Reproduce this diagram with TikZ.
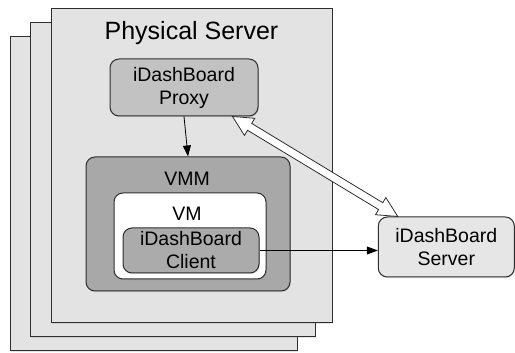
\documentclass[tikz,border=0pt]{standalone}
\usepackage{fontspec}
\setmainfont{Liberation Sans}
\usetikzlibrary{calc,arrows.meta,shadows}
\definecolor{pagegray}{HTML}{E3E3E3}
\definecolor{proxygray}{HTML}{C2C2C2}
\definecolor{vmmgray}{HTML}{A8A8A8}
\definecolor{clientgray}{HTML}{ABABAB}
\definecolor{servergray}{HTML}{E6E6E6}
\definecolor{edge}{HTML}{2E2E2E}
\begin{document}
\begin{tikzpicture}[x=1pt,y=1pt,
  sheet/.style={draw=edge, line width=1pt, fill=pagegray, minimum width=#1, minimum height=314pt, inner sep=0pt,
    drop shadow={opacity=0.2, shadow xshift=1pt, shadow yshift=-1.5pt}},
  rbox/.style={draw=edge, line width=1pt, rounded corners=9pt, inner sep=0pt, align=center,
    font=\fontsize{19.5}{23}\selectfont,
    drop shadow={opacity=0.25, shadow xshift=0.8pt, shadow yshift=-1.2pt}},
  lbl/.style={inner sep=0pt, font=\fontsize{19.5}{23}\selectfont},
  conn/.style={line width=0.8pt, draw=black, -{Triangle[length=11pt,width=8pt]}}
]
\useasboundingbox (0,0) rectangle (515,353);
% stacked servers
\node[sheet=287pt] (back) at (153.5,159) {};
\node[sheet=285pt] (mid) at (172.5,173) {};
\node[sheet=281pt] (front) at (191.5,187) {};
\node[inner sep=0pt, font=\fontsize{25}{29}\selectfont] (title) at (191.5,320) {Physical Server};
% proxy
\node[rbox, fill=proxygray, minimum width=148pt, minimum height=57pt] (proxy) at (184,265.5) {iDashBoard\\Proxy};
% VMM
\node[rbox, fill=vmmgray, minimum width=204pt, minimum height=134pt] (vmm) at (188,129) {};
\node[lbl] (vmmlbl) at (187,174) {VMM};
\node[rbox, fill=white, minimum width=152pt, minimum height=86pt] (vm) at (190,117) {};
\node[lbl] (vmlbl) at (187,139.5) {VM};
\node[rbox, fill=clientgray, minimum width=136pt, minimum height=45pt] (client) at (191,102.5) {iDashBoard\\Client};
% server
\node[rbox, fill=servergray, minimum width=136pt, minimum height=60pt] (server) at (446.3,106) {iDashBoard\\Server};
% connectors
\draw[conn] (proxy.south) -- (vmm.north);
\draw[conn] (client.east) -- (client.east -| server.west);
\coordinate (pa) at ([xshift=-26pt]proxy.south east);
\coordinate (sb) at ([xshift=20pt]server.north west);
\path[draw=edge, line width=0.8pt, fill=white, line join=miter]
  let \p1=($(sb)-(pa)$), \n1={atan2(\y1,\x1)} in
  (pa) -- ($(pa)+({\n1+26.57}:22.36pt)$) -- ($(pa)+({\n1+11.31}:20.40pt)$)
  -- ($(sb)+({\n1+180-11.31}:20.40pt)$) -- ($(sb)+({\n1+180-26.57}:22.36pt)$)
  -- (sb) -- ($(sb)+({\n1+180+26.57}:22.36pt)$) -- ($(sb)+({\n1+180+11.31}:20.40pt)$)
  -- ($(pa)+({\n1-11.31}:20.40pt)$) -- ($(pa)+({\n1-26.57}:22.36pt)$) -- cycle;
\end{tikzpicture}
\end{document}
